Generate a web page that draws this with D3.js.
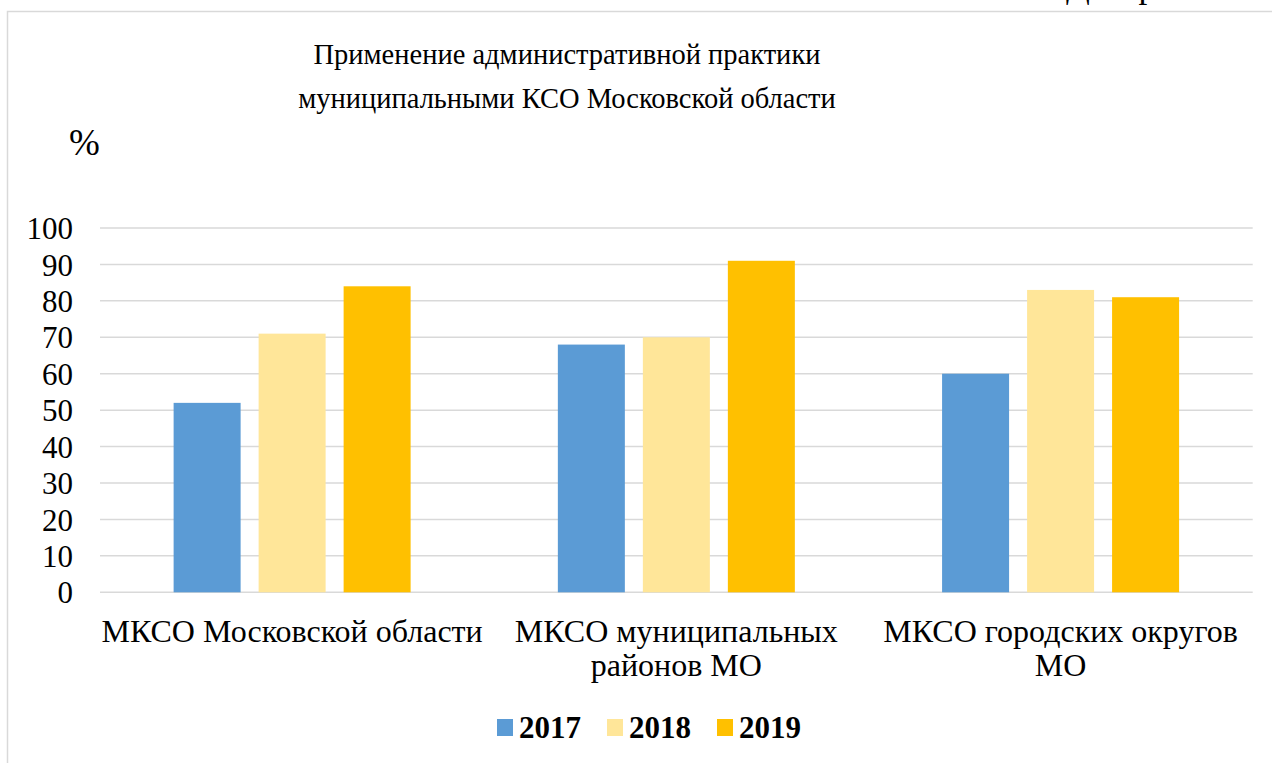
<!DOCTYPE html>
<html><head><meta charset="utf-8">
<script src="https://cdn.jsdelivr.net/npm/d3@7"></script>
</head>
<body style="margin:0"><svg id="c" width="1272" height="763"></svg>
<script>
const titleLines = ["Применение административной практики", "муниципальными КСО Московской области"];
const categories = ["МКСО Московской области", "МКСО муниципальных\nрайонов МО", "МКСО городских округов\nМО"];
const years = ["2017", "2018", "2019"];
const values2017 = [52, 68, 60];
const values2018 = [71, 70, 83];
const values2019 = [84, 91, 81];
const yTicks = [0, 10, 20, 30, 40, 50, 60, 70, 80, 90, 100];
const colors = ["#5b9bd5", "#ffe699", "#ffc000"];
const seriesValues = [values2017, values2018, values2019];
const FONT = "'Liberation Serif', monospace";

const svg = d3.select("#c");
const plot = {left: 100, right: 1252.7, top: 228, bottom: 592.3};

svg.append("rect").attr("x", 7.5).attr("y", 11.5).attr("width", 1400).attr("height", 900)
  .attr("fill", "none").attr("stroke", "#d9d9d9").attr("stroke-width", 1.5);

const y = d3.scaleLinear().domain([0, 100]).range([plot.bottom, plot.top]);
const x0 = d3.scaleBand().domain(categories).range([plot.left, plot.right]);
const groupW = 237;
const off = (x0.bandwidth() - groupW) / 2;
const x1 = d3.scaleBand().domain(years).range([off, off + groupW]).paddingInner(18 / 85);

// gridlines
svg.selectAll("line.grid").data(yTicks).join("line").attr("class", "grid")
  .attr("x1", plot.left).attr("x2", plot.right)
  .attr("y1", d => y(d)).attr("y2", d => y(d))
  .attr("stroke", "#d9d9d9").attr("stroke-width", 1.5);

// bars
const barData = [];
categories.forEach((c, i) => years.forEach((yr, j) => barData.push({cat: c, yr, v: seriesValues[j][i], j})));
svg.selectAll("rect.bar").data(barData).join("rect").attr("class", "bar")
  .attr("x", d => x0(d.cat) + x1(d.yr)).attr("width", x1.bandwidth())
  .attr("y", d => y(d.v)).attr("height", d => y(0) - y(d.v))
  .attr("fill", d => colors[d.j]);

// cut-off text above the chart, as in the reference
svg.append("text").attr("x", 1066).attr("y", -3).attr("font-size", 35).style("font-family", FONT).attr("fill", "#000").text("Диаграмма");

// y tick labels
svg.selectAll("text.ytick").data(yTicks).join("text").attr("class", "ytick")
  .attr("x", 73).attr("y", d => y(d)).attr("dy", "0.36em").attr("text-anchor", "end")
  .attr("font-size", 31).style("font-family", FONT).attr("fill", "#000").text(d => d);

// category labels
const catLines = [];
categories.forEach(c => c.split("\n").forEach((line, k) => catLines.push({c, line, k})));
svg.selectAll("text.cat").data(catLines).join("text").attr("class", "cat")
  .attr("x", d => x0(d.c) + x0.bandwidth() / 2).attr("y", d => 642 + d.k * 34)
  .attr("text-anchor", "middle").attr("font-size", 32).style("font-family", FONT).attr("fill", "#000").text(d => d.line);

// title
svg.selectAll("text.title").data(titleLines).join("text").attr("class", "title")
  .attr("x", 567).attr("y", (d, i) => 64 + i * 44)
  .attr("text-anchor", "middle").attr("font-size", 28.5).style("font-family", FONT).attr("fill", "#000").text(d => d);

// % label
svg.append("text").attr("x", 69).attr("y", 155).attr("font-size", 37).style("font-family", FONT).attr("fill", "#000").text("%");

// legend
const legX = [497, 607, 717];
svg.selectAll("rect.leg").data(years).join("rect").attr("class", "leg")
  .attr("x", (d, i) => legX[i]).attr("y", 719).attr("width", 16).attr("height", 17).attr("fill", (d, i) => colors[i]);
svg.selectAll("text.leg").data(years).join("text").attr("class", "leg")
  .attr("x", (d, i) => legX[i] + 22).attr("y", 738).attr("font-size", 31).attr("font-weight", "bold")
  .style("font-family", FONT).attr("fill", "#000").text(d => d);
</script></body></html>
